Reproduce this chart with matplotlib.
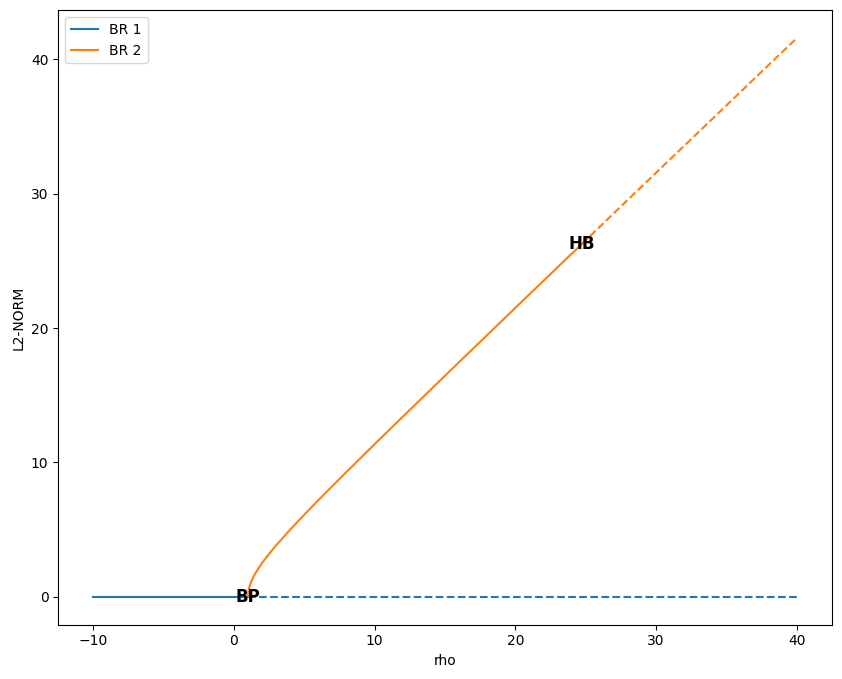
import matplotlib
matplotlib.use("Agg")
import matplotlib.pyplot as plt

# BR 1: trivial branch (stable up to BP, unstable after)
br1_rho_stable = [-10.0, 1.0]
br1_norm_stable = [0.0, 0.0]
br1_rho_unstable = [1.0, 40.0]
br1_norm_unstable = [0.0, 0.0]

# BR 2: branch from BP, stable up to HB
br2_rho_stable = [1.0, 1.01, 1.05, 1.1, 1.2, 1.35, 1.5, 1.75, 2.0, 2.5, 3.0, 4.0, 5.0,
                  6.0, 8.0, 10.0, 12.0, 15.0, 18.0, 21.0, 24.74]
br2_norm_stable = [0.0, 0.23, 0.52, 0.74, 1.05, 1.40, 1.71, 2.12, 2.52, 3.19, 3.83,
                   5.00, 6.11, 7.19, 9.29, 11.36, 13.40, 16.45, 19.48, 22.51, 26.27]
br2_rho_unstable = [24.74, 28.0, 32.0, 36.0, 40.0]
br2_norm_unstable = [26.27, 29.55, 33.56, 37.57, 41.58]

# special points
pt_labels = ["BP", "HB"]
pt_rho = [1.0, 24.74]
pt_norm = [0.0, 26.27]

fig, ax = plt.subplots(figsize=(8.42, 6.79), dpi=100)
fig.subplots_adjust(left=0.069, right=0.988, top=0.985, bottom=0.08)

ax.plot(br1_rho_stable, br1_norm_stable, color="C0", label="BR 1")
ax.plot(br1_rho_unstable, br1_norm_unstable, color="C0", linestyle="--")
ax.plot(br2_rho_stable, br2_norm_stable, color="C1", label="BR 2")
ax.plot(br2_rho_unstable, br2_norm_unstable, color="C1", linestyle="--")

for lab, x, y in zip(pt_labels, pt_rho, pt_norm):
    ax.text(x, y, lab, fontsize=12, fontweight="bold", ha="center", va="center")

ax.set_xlabel("rho")
ax.set_ylabel("L2-NORM")
ax.legend(loc="upper left")

fig.savefig("out.png", dpi=100)
